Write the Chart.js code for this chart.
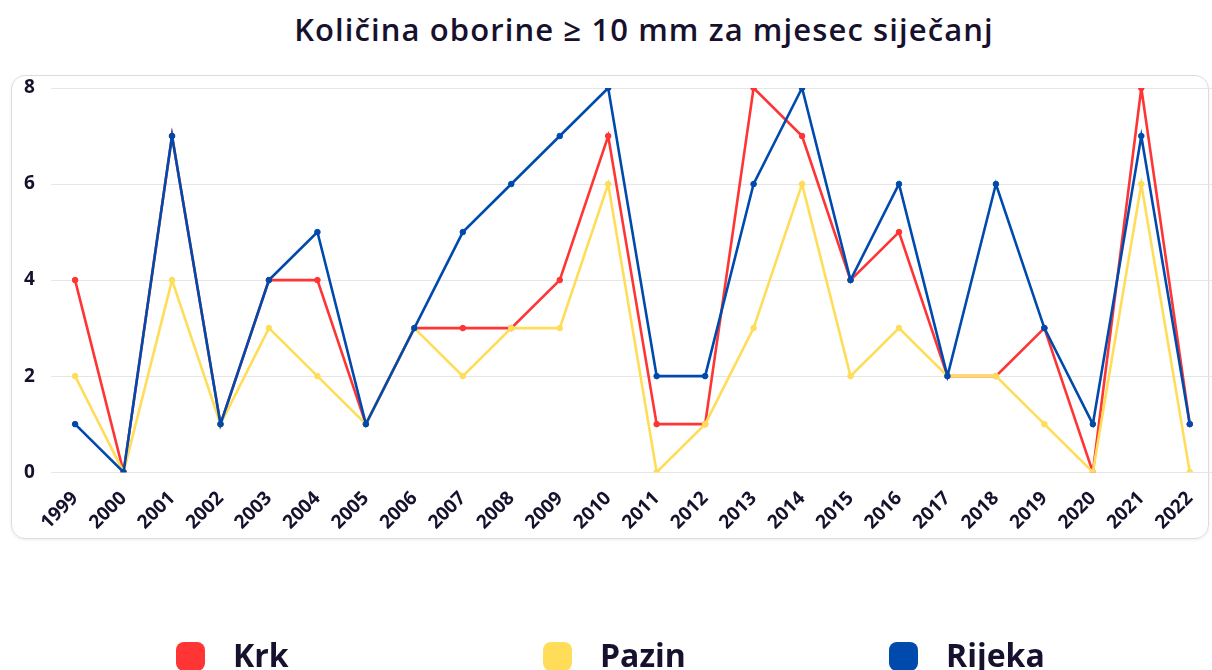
<!DOCTYPE html>
<html>
<head>
<meta charset="utf-8">
<script src="https://cdn.jsdelivr.net/npm/chart.js@4.4.1/dist/chart.umd.min.js"></script>
<style>
  html, body { margin: 0; padding: 0; background: #fff; }
  #wrap { position: relative; width: 1212px; height: 670px; overflow: hidden; }
  #card { position: absolute; left: 11px; top: 75px; width: 1196px; height: 462px;
          border: 1.5px solid #dcdcdc; border-radius: 14px; box-shadow: 0 1px 3px rgba(0,0,0,0.08); }
  #title { position: absolute; top: 8px; left: 0; width: 1212px; text-align: center; padding-left: 76px; box-sizing: border-box;
           font-family: "Open Sans", sans-serif; font-weight: 600; font-size: 31px; letter-spacing: 1.1px; color: #17112e; }
  canvas { position: absolute; left: 0; top: 0; }
  #legend { position: absolute; left: 0; top: 0; width: 1212px; height: 670px; pointer-events: none; }
  .item { position: absolute; top: 636px; display: flex; align-items: flex-start; }
  .box { width: 29px; height: 29px; border-radius: 8px; margin-top: 6px; margin-right: 28px; }
  .lab { font-family: "Open Sans", sans-serif; font-weight: 700; font-size: 32px; color: #17112e; line-height: 38px; }
</style>
</head>
<body>
<div id="wrap">
  <div id="card"></div>
  <div id="title">Količina oborine ≥ 10 mm za mjesec siječanj</div>
  <canvas id="c" width="1219" height="670"></canvas>
  <div id="legend"></div>
</div>
<script>
const years = ['1999','2000','2001','2002','2003','2004','2005','2006','2007','2008','2009','2010','2011','2012','2013','2014','2015','2016','2017','2018','2019','2020','2021','2022'];
const krk    = [4,0,7,1,4,4,1,3,3,3,4,7,1,1,8,7,4,5,2,2,3,0,8,1];
const pazin  = [2,0,4,1,3,2,1,3,2,3,3,6,0,1,3,6,2,3,2,2,1,0,6,0];
const rijeka = [1,0,7,1,4,5,1,3,5,6,7,8,2,2,6,8,4,6,2,6,3,1,7,1];
const yTicks = [0,2,4,6,8];
const seriesNames = ['Krk','Pazin','Rijeka'];
const seriesColors = ['#ff3434','#ffdd59','#004aad'];
const legendLeft = [176, 543, 889];

const mk = (i, data, order) => ({
  label: seriesNames[i], data, order,
  borderColor: seriesColors[i], backgroundColor: seriesColors[i],
  pointBackgroundColor: seriesColors[i], pointBorderColor: seriesColors[i],
  borderWidth: 2.6, pointRadius: 2.8, pointBorderWidth: 1, tension: 0, fill: false
});

new Chart(document.getElementById('c'), {
  type: 'line',
  data: { labels: years, datasets: [mk(0, krk, 2), mk(1, pazin, 1), mk(2, rijeka, 0)] },
  options: {
    responsive: false, animation: false,
    layout: { padding: { left: 8, right: 0, top: 88, bottom: 121 } },
    plugins: { legend: { display: false }, title: { display: false }, tooltip: { enabled: false } },
    scales: {
      x: {
        offset: true,
        afterFit: (s) => { s.paddingLeft = 0; s.paddingRight = 0; },
        grid: { display: false, drawTicks: false },
        border: { display: false },
        ticks: { color: '#17112e', font: { family: 'Open Sans', weight: '700', size: 19 },
                 minRotation: 45, maxRotation: 45, autoSkip: false, padding: 15 }
      },
      y: {
        min: 0, max: 8,
        afterBuildTicks: (s) => { s.ticks = yTicks.map(v => ({ value: v })); },
        grid: { color: '#e6e6e6', lineWidth: 1, drawTicks: false },
        border: { display: false },
        ticks: { color: '#17112e', font: { family: 'Open Sans', weight: '700', size: 19 }, padding: 16 }
      }
    }
  }
});

const lg = document.getElementById('legend');
seriesNames.forEach((n, i) => {
  const it = document.createElement('div');
  it.className = 'item';
  it.style.left = legendLeft[i] + 'px';
  it.innerHTML = '<div class="box" style="background:' + seriesColors[i] + '"></div><div class="lab">' + n + '</div>';
  lg.appendChild(it);
});
</script>
</body>
</html>
